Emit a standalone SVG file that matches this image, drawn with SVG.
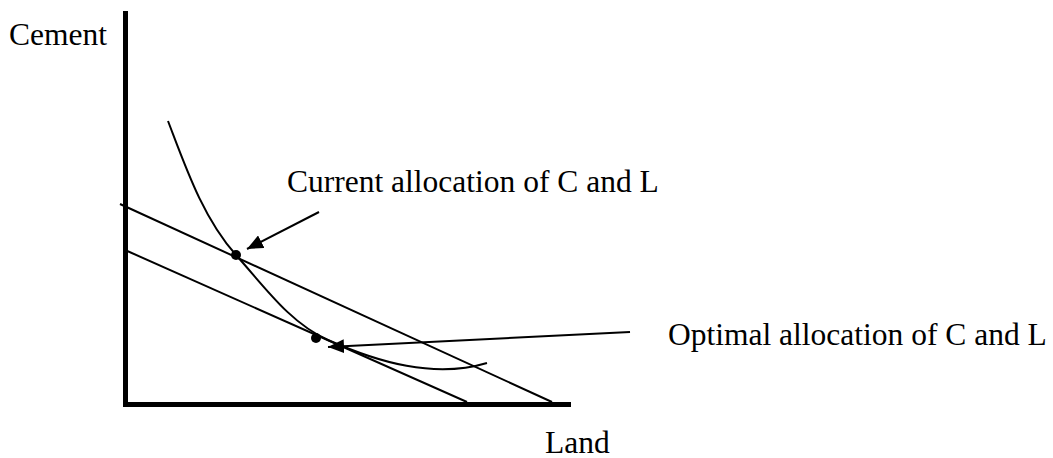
<svg xmlns="http://www.w3.org/2000/svg" width="1053" height="458" viewBox="0 0 1053 458">
  <style>
    .lbl { font-family: "Liberation Serif", "Times New Roman", serif; font-size: 31.5px; fill: #000; }
    .axis { stroke: #000; stroke-width: 5; fill: none; stroke-linecap: butt; }
    .thin { stroke: #000; stroke-width: 2; fill: none; }
    .dot { fill: #000; }
  </style>
  <defs>
    <marker id="arrow" viewBox="0 0 16 14" refX="16" refY="7" markerWidth="16" markerHeight="14" markerUnits="userSpaceOnUse" orient="auto">
      <path d="M0,0 L16,7 L0,14 z" fill="#000"/>
    </marker>
  </defs>
  <rect width="1053" height="458" fill="#fff"/>

  <g id="axes">
    <line class="axis" x1="125.5" y1="11" x2="125.5" y2="407"/>
    <line class="axis" x1="123" y1="404.5" x2="571" y2="404.5"/>
  </g>

  <g id="budget-line-current">
    <line class="thin" x1="120" y1="204" x2="552" y2="402"/>
  </g>
  <g id="budget-line-optimal">
    <line class="thin" x1="125" y1="250" x2="467" y2="402"/>
  </g>

  <g id="indifference-curve">
    <path class="thin" d="M168,121 C186,168 203,218 236,255 C264,286 289.6,322.9 328,340 C378.3,362.4 434.3,378.8 487,363"/>
  </g>

  <g id="point-current">
    <circle class="dot" cx="236" cy="255" r="5"/>
  </g>
  <g id="point-optimal">
    <circle class="dot" cx="316" cy="338" r="5"/>
  </g>

  <g id="label-cement">
    <text class="lbl" x="9" y="45">Cement</text>
  </g>
  <g id="label-land">
    <text class="lbl" x="545" y="453">Land</text>
  </g>
  <g id="label-current">
    <text class="lbl" x="287" y="192">Current allocation of C and L</text>
  </g>
  <g id="label-optimal">
    <text class="lbl" x="668" y="345">Optimal allocation of C and L</text>
  </g>

  <g id="connectors">
    <line class="thin" x1="319" y1="212" x2="247" y2="249" marker-end="url(#arrow)"/>
    <line class="thin" x1="630" y1="332" x2="328" y2="347" marker-end="url(#arrow)"/>
  </g>
</svg>
